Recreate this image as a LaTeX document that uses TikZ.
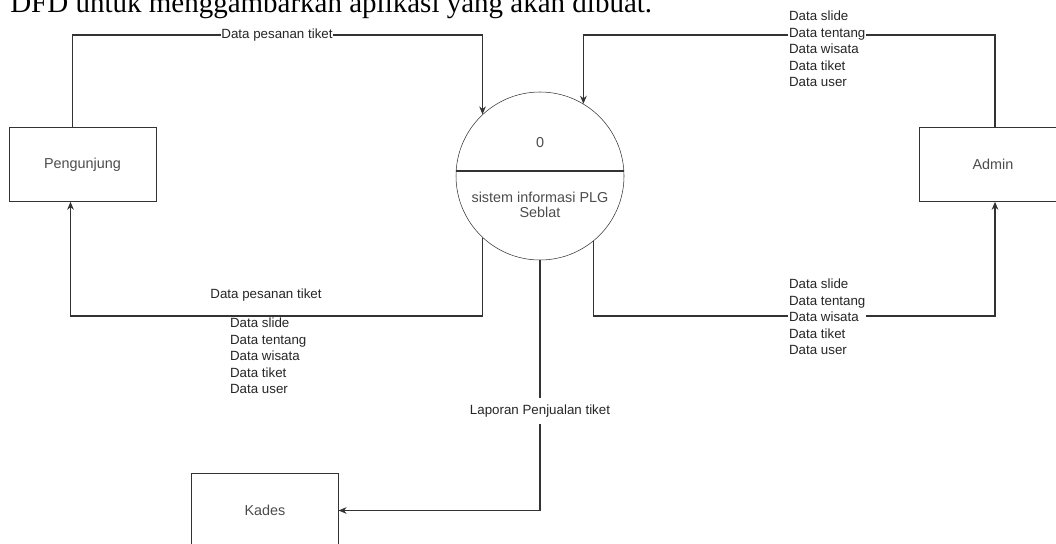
\documentclass[tikz,border=0pt]{standalone}
\usepackage{fontspec}
\setmainfont{Liberation Sans}
\newfontfamily\docfont{Liberation Serif}
\usetikzlibrary{shapes,arrows.meta,positioning}

\begin{document}
\begin{tikzpicture}[
    x=0.75pt, y=-0.75pt,
    ent/.style  = {draw=black!80, minimum width=110pt, minimum height=55.5pt,
                   text=black!70, font=\fontsize{10.8}{13}\selectfont},
    proc/.style = {circle, draw=black!80, minimum size=126pt, inner sep=0pt,
                   text=black!70, font=\fontsize{10.8}{11.5}\selectfont},
    lbl/.style  = {text=black!85, font=\fontsize{10}{12.3}\selectfont, inner sep=0.6pt},
    arr/.style  = {-{Stealth[length=6pt,width=5pt]}, draw=black!80, line width=0.8pt},
  ]
    \useasboundingbox (0,0) rectangle (1056,543);
    \clip (0,0) rectangle (1056,543);

    \node[anchor=base west, inner sep=0pt, font=\docfont\fontsize{21.75}{26}\selectfont]
      (head) at (10,12) {DFD untuk menggambarkan aplikasi yang akan dibuat.};

    \node[ent]  (peng)  at (82.5,164.5) {Pengunjung};
    \node[ent]  (admin) at (993,164.5)  {Admin};
    \node[ent]  (kades) at (265,510.5)  {Kades};
    \node[proc] (sys)   at (540,176)    {};
    \draw[draw=black!80, line width=1.1pt] ([yshift=3.75pt]sys.west) -- ([yshift=3.75pt]sys.east);
    \node[proc, draw=none, minimum size=0pt] (num) at (540,143) {0};
    \node[proc, draw=none, minimum size=0pt, align=center] (name) at (540,205)
      {sistem informasi PLG\\Seblat};

    \coordinate (topline) at (0,35);
    \coordinate (midline) at (0,316);

    \draw[arr] ([xshift=-7.5pt]peng.north) |- (sys.133 |- topline) -- (sys.133);
    \draw[arr] ([xshift=1.5pt]admin.north) |- (sys.59 |- topline) -- (sys.59);
    \draw[arr] (sys.227) -- (sys.227 |- midline) -| ([xshift=-9pt]peng.south);
    \draw[arr] (sys.309) -- (sys.309 |- midline) -| ([xshift=1.5pt]admin.south);
    \draw[arr] (sys.south) |- (kades.east);

    \node[lbl, fill=white] (lp1) at (277,35)  {Data pesanan tiket};
    \node[lbl]             (lp2) at (266,295) {Data pesanan tiket};
    \node[lbl, align=left, anchor=west] (ld1) at (229,356)
      {Data slide\\Data tentang\\Data wisata\\Data tiket\\Data user};
    \node[lbl, fill=white, align=left, anchor=west] (ld2) at (788,49)
      {Data slide\\Data tentang\\Data wisata\\Data tiket\\Data user};
    \node[lbl, fill=white, align=left, anchor=west] (ld3) at (788,317)
      {Data slide\\Data tentang\\Data wisata\\Data tiket\\Data user};
    \node[lbl, fill=white, inner ysep=5pt] (lk) at (540,411) {Laporan Penjualan tiket};
  \end{tikzpicture}
\end{document}
